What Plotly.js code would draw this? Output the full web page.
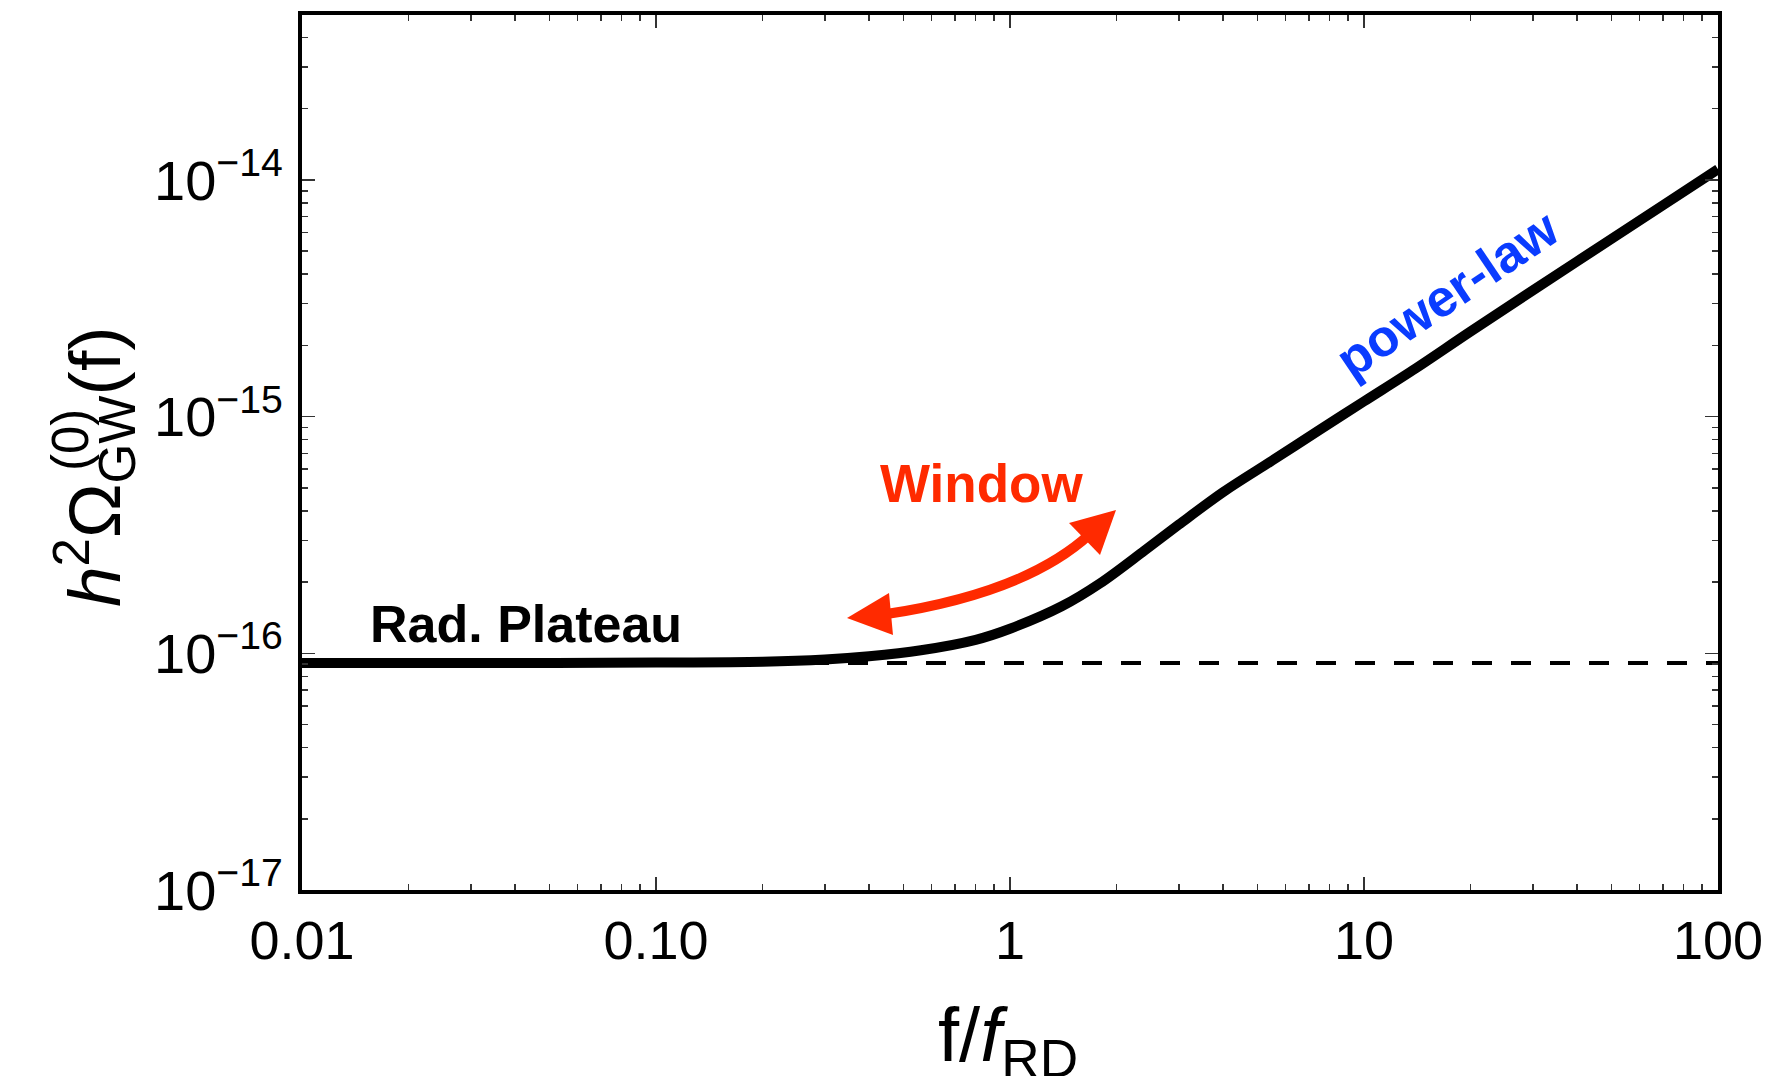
<!DOCTYPE html>
<html>
<head>
<meta charset="utf-8">
<script src="https://cdn.plot.ly/plotly-3.0.1.min.js"></script>
<style>
  html, body { margin: 0; padding: 0; background: #ffffff; }
  #chart { width: 1773px; height: 1076px; }
</style>
</head>
<body>
<div id="chart"></div>
<script>
// ---- data ----
const freq  = [0.01, 0.03, 0.1, 0.2, 0.3, 0.4, 0.56, 0.8, 1.0, 1.4, 1.8, 2.4, 3.0, 4.0, 5.5, 7.5, 10, 14, 20, 40, 70, 100];
const omega = [9.1e-17, 9.1e-17, 9.14e-17, 9.22e-17, 9.42e-17, 9.72e-17, 1.03e-16, 1.14e-16, 1.27e-16, 1.58e-16,
               1.98e-16, 2.72e-16, 3.5e-16, 4.8e-16, 6.52e-16, 8.8e-16, 1.16e-15, 1.60e-15, 2.29e-15, 4.53e-15, 7.83e-15, 1.11e-14];
const plateauFreq  = [0.01, 100];
const plateauOmega = [9.1e-17, 9.1e-17];

const xTickVals = [0.01, 0.1, 1, 10, 100];
const xTickText = ['0.01', '0.10', '1', '10', '100'];
const yTickVals = [1e-17, 1e-16, 1e-15, 1e-14];
const yTickText = ['10<sup>\u221217</sup>', '10<sup>\u221216</sup>', '10<sup>\u221215</sup>', '10<sup>\u221214</sup>'];

const labelPlateau = 'Rad. Plateau';
const labelWindow  = 'Window';
const labelPower   = 'power-law';

// minor ticks (2..9 in each decade)
function minorTicks(e0, e1) {
  const out = [];
  for (let e = e0; e <= e1; e++) for (let m = 2; m <= 9; m++) out.push(m * Math.pow(10, e));
  return out;
}
const xMinor = minorTicks(-2, 1);
const yMinor = minorTicks(-17, -14);

// ---- layout geometry (pixels) ----
const W = 1773, H = 1076;
const L = 302, R = 1718, T = 15, B = 890;
const PX = x => (x - L) / (R - L);
const PY = y => (B - y) / (B - T);

const FONT = 'Liberation Sans, Arial, Helvetica, sans-serif';
const RED = '#ff2a00';
const BLUE = '#0a3cff';

const traces = [
  {
    x: plateauFreq, y: plateauOmega, type: 'scatter', mode: 'lines',
    line: { color: '#000000', width: 4, dash: '20px,19px' }, hoverinfo: 'skip'
  },
  {
    x: freq, y: omega, type: 'scatter', mode: 'lines',
    line: { color: '#000000', width: 10, shape: 'spline', smoothing: 0.9 }, hoverinfo: 'skip'
  }
];

function axisCommon(fs) {
  return {
    showline: true, linecolor: '#000000', linewidth: 4, mirror: 'allticks',
    ticks: 'inside', ticklen: 13, tickwidth: 1.5, tickcolor: '#333333',
    showgrid: false, zeroline: false,
    tickfont: { family: FONT, size: fs, color: '#000000' }
  };
}

const xaxis = Object.assign(axisCommon(54), {
  type: 'log', range: [-2, 2],
  tickmode: 'array', tickvals: xTickVals, ticktext: xTickText,
  minor: { tickmode: 'array', tickvals: xMinor, ticks: 'inside', ticklen: 6, tickwidth: 1.5, tickcolor: '#333333', showgrid: false }
});
const yaxis = Object.assign(axisCommon(56), {
  type: 'log', range: [-17, -13.303],
  tickmode: 'array', tickvals: yTickVals, ticktext: yTickText,
  ticklabelstandoff: 4,
  minor: { tickmode: 'array', tickvals: yMinor, ticks: 'inside', ticklen: 6, tickwidth: 1.5, tickcolor: '#333333', showgrid: false }
});

// curved double arrow (pixel geometry converted to paper)
const shaftPath = `M ${PX(885)},${PY(614.3)} Q ${PX(1026)},${PY(593)} ${PX(1090)},${PY(534)}`;
const headLeft  = `M ${PX(847)},${PY(618)} L ${PX(893)},${PY(635)} L ${PX(889)},${PY(593)} Z`;
const headRight = `M ${PX(1116)},${PY(510)} L ${PX(1069)},${PY(523)} L ${PX(1100)},${PY(555)} Z`;

const layout = {
  width: W, height: H,
  margin: { l: L, r: W - R, t: T, b: H - B, pad: 0 },
  paper_bgcolor: '#ffffff', plot_bgcolor: '#ffffff',
  showlegend: false,
  xaxis: xaxis, yaxis: yaxis,
  shapes: [
    { type: 'path', xref: 'paper', yref: 'paper', path: shaftPath, line: { color: RED, width: 10 } },
    { type: 'path', xref: 'paper', yref: 'paper', path: headLeft, fillcolor: RED, line: { width: 0 } },
    { type: 'path', xref: 'paper', yref: 'paper', path: headRight, fillcolor: RED, line: { width: 0 } }
  ],
  annotations: [
    { xref: 'paper', yref: 'paper', x: PX(526), y: PY(624), text: '<b>' + labelPlateau + '</b>', showarrow: false,
      xanchor: 'center', yanchor: 'middle', font: { family: FONT, size: 52, color: '#000000' } },
    { xref: 'paper', yref: 'paper', x: PX(981), y: PY(483), text: '<b>' + labelWindow + '</b>', showarrow: false,
      xanchor: 'center', yanchor: 'middle', font: { family: FONT, size: 53, color: RED } },
    { xref: 'paper', yref: 'paper', x: PX(1447), y: PY(294), text: '<b>' + labelPower + '</b>', showarrow: false,
      textangle: -34, xanchor: 'center', yanchor: 'middle', font: { family: FONT, size: 52, color: BLUE } },
    // y-axis title
    { xref: 'paper', yref: 'paper', x: PX(94), y: PY(467), text: '<i>h</i><sup>2</sup>\u03A9<sub>GW</sub>(f)', showarrow: false,
      textangle: -90, xanchor: 'center', yanchor: 'middle', font: { family: FONT, size: 73, color: '#000000' } },
    { xref: 'paper', yref: 'paper', x: PX(70), y: PY(440), text: '(0)', showarrow: false,
      textangle: -90, xanchor: 'center', yanchor: 'middle', font: { family: FONT, size: 51, color: '#000000' } },
    // x-axis title
    { xref: 'paper', yref: 'paper', x: PX(1008), y: PY(1040), text: 'f/<i>f</i><sub>RD</sub>', showarrow: false,
      xanchor: 'center', yanchor: 'middle', font: { family: FONT, size: 76, color: '#000000' } }
  ]
};

Plotly.newPlot('chart', traces, layout, { displayModeBar: false, staticPlot: true });
</script>
</body>
</html>
